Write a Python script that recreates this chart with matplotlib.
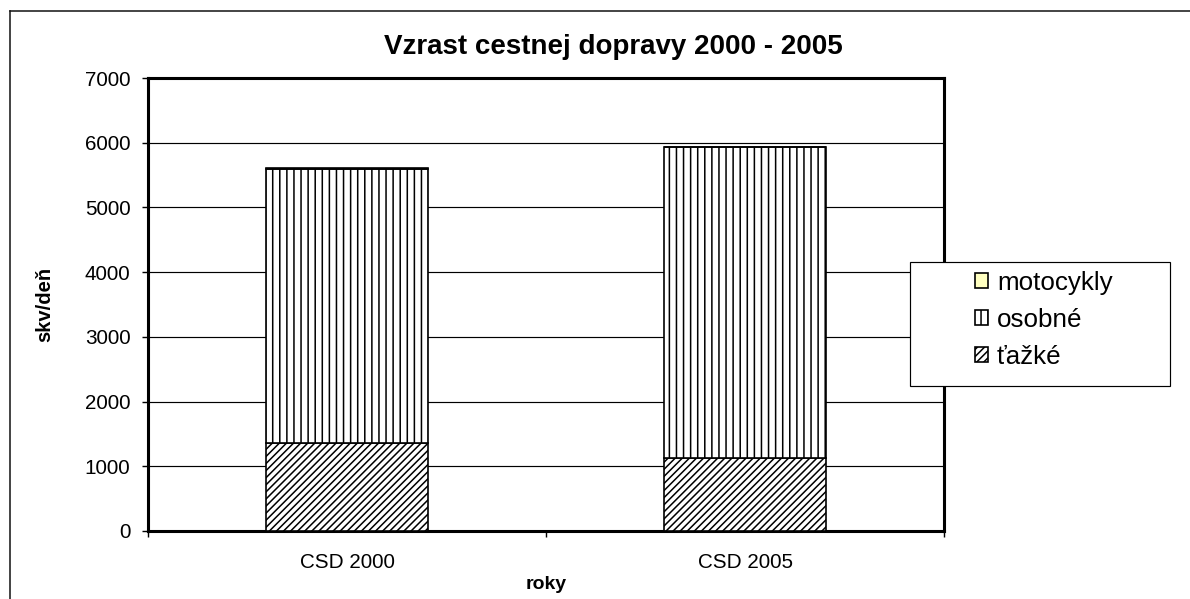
import numpy as np
import matplotlib.pyplot as plt
from matplotlib.patches import Rectangle
from matplotlib.lines import Line2D

plt.rcParams['font.family'] = ['Liberation Sans', 'DejaVu Sans']
plt.rcParams['hatch.linewidth'] = 1.3
plt.rcParams['hatch.color'] = 'black'

# ── Data ─────────────────────────────────────────────────────────────────────
categories = ['CSD 2000', 'CSD 2005']
tazke      = [1360, 1130]
osobne     = [4240, 4800]
motocykly  = [10, 10]
y_ticks    = [0, 1000, 2000, 3000, 4000, 5000, 6000, 7000]

DPI = 85
fig = plt.figure(figsize=(1190 / DPI, 599 / DPI), dpi=DPI)
fig.patch.set_facecolor('white')

# outer chart frame (left and top edges visible only)
fig.add_artist(Line2D([10 / 1190, 10 / 1190], [0, 1 - 11 / 599],
                      transform=fig.transFigure, color='#111111', lw=1.3))
fig.add_artist(Line2D([10 / 1190, 1], [1 - 11 / 599, 1 - 11 / 599],
                      transform=fig.transFigure, color='#111111', lw=1.3))

ax = fig.add_axes([148 / 1190, 68 / 599, 796 / 1190, 453 / 599])

x = np.arange(len(categories))
w = 0.405
b_osobne = np.array(tazke)
b_moto   = b_osobne + np.array(osobne)

ax.bar(x, tazke, w, color='white', edgecolor='black', linewidth=1.4,
       hatch='////', label='ťažké', zorder=3)
ax.bar(x, osobne, w, bottom=b_osobne, color='white', edgecolor='black',
       linewidth=1.4, hatch='||', label='osobné', zorder=3)
ax.bar(x, motocykly, w, bottom=b_moto, color='#FFFFC0', edgecolor='black',
       linewidth=1.4, label='motocykly', zorder=3)

ax.set_xlim(-0.5, 1.5)
ax.set_ylim(0, 7000)
ax.set_yticks(y_ticks)
ax.set_yticklabels([str(v) for v in y_ticks], fontsize=17.5)
ax.set_xticks(x)
ax.set_xticklabels(categories, fontsize=17.5)
ax.set_xticks([-0.5, 0.5, 1.5], minor=True)
ax.tick_params(axis='x', which='major', length=0, pad=19)
ax.tick_params(axis='x', which='minor', length=5, width=1.2, direction='out')
ax.tick_params(axis='y', length=5, width=1.2, direction='out', pad=10)

ax.grid(axis='y', color='black', linewidth=1.0, zorder=0)
ax.set_axisbelow(True)
for s in ax.spines.values():
    s.set_linewidth(2.6)
    s.set_color('black')

ax.set_xlabel('roky', fontsize=16.5, fontweight='bold', labelpad=3)
ax.set_ylabel('skv/deň', fontsize=17, fontweight='bold', labelpad=26)

fig.text(613 / 1190, 1 - 47 / 599, 'Vzrast cestnej dopravy 2000 - 2005',
         fontsize=23.5, fontweight='bold', ha='center', va='center')

# ── Legend ───────────────────────────────────────────────────────────────────
fig.add_artist(Rectangle((910 / 1190, 1 - 386 / 599), 260 / 1190, 124 / 599,
                         transform=fig.transFigure, facecolor='white',
                         edgecolor='black', linewidth=1.0, zorder=10))
handles, labels = ax.get_legend_handles_labels()
leg = fig.legend(handles[::-1], labels[::-1], loc='center left',
                 bbox_to_anchor=(962 / 1190, 1 - 320 / 599), frameon=False,
                 fontsize=22, handlelength=0.5, handleheight=0.5,
                 handletextpad=0.35, labelspacing=0.5, borderpad=0)
leg.set_zorder(11)

plt.savefig('out.png', dpi=DPI)
